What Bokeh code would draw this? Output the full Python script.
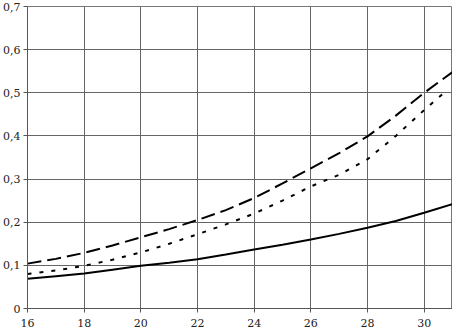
from bokeh.plotting import figure
from bokeh.embed import file_html
from bokeh.resources import INLINE
from bokeh.models import Range1d, FixedTicker, CustomJSTickFormatter

x_vals = [16, 17, 18, 19, 20, 21, 22, 23, 24, 25, 26, 27, 28, 29, 30, 31]
solid = [0.069, 0.075, 0.081, 0.090, 0.099, 0.106, 0.114, 0.125, 0.137, 0.148, 0.160, 0.173, 0.187, 0.203, 0.222, 0.242]
dashed = [0.104, 0.115, 0.129, 0.146, 0.165, 0.184, 0.205, 0.228, 0.256, 0.290, 0.325, 0.360, 0.399, 0.447, 0.500, 0.548]
dotted_x = [16, 17, 18, 19, 20, 21, 22, 23, 24, 25, 26, 27, 28, 29, 30, 30.7]
dotted = [0.080, 0.088, 0.099, 0.113, 0.130, 0.150, 0.172, 0.195, 0.220, 0.250, 0.283, 0.310, 0.346, 0.400, 0.460, 0.500]

x_ticks = [16, 18, 20, 22, 24, 26, 28, 30]
y_ticks = [0, 0.1, 0.2, 0.3, 0.4, 0.5, 0.6, 0.7]

FONT = "DejaVu Serif"

p = figure(width=452, height=331, output_backend="svg", toolbar_location=None,
           x_range=Range1d(16, 31), y_range=Range1d(0, 0.7),
           min_border_left=22, min_border_right=0, min_border_top=6, min_border_bottom=23)
p.outline_line_color = "#777777"
p.outline_line_width = 1

for ax in (p.xaxis[0], p.yaxis[0]):
    ax.axis_line_color = "#555555"
    ax.major_tick_line_color = "#555555"
    ax.major_tick_in = 0
    ax.major_tick_out = 4
    ax.minor_tick_line_color = None
    ax.major_label_text_font = FONT
    ax.major_label_text_font_size = "11px"
    ax.major_label_text_font_style = "normal"
    ax.major_label_text_color = "#222222"

p.xaxis.ticker = FixedTicker(ticks=x_ticks)
p.yaxis.ticker = FixedTicker(ticks=y_ticks)
p.yaxis.formatter = CustomJSTickFormatter(code="return tick == 0 ? '0' : tick.toFixed(1).replace('.', ',');")
p.xaxis.major_label_standoff = 6
p.yaxis.major_label_standoff = 3

p.xgrid.ticker = FixedTicker(ticks=x_ticks)
p.ygrid.ticker = FixedTicker(ticks=y_ticks)
p.grid.grid_line_color = "#666666"
p.grid.grid_line_width = 1
p.grid.grid_line_alpha = 1.0

p.line(x_vals, solid, line_color="black", line_width=2)
p.line(x_vals, dashed, line_color="black", line_width=2, line_dash="14 6")
p.line(dotted_x, dotted, line_color="black", line_width=2, line_dash="4 8")

html = file_html(p, INLINE)
html = html.replace("<body>", '<body style="margin:0">', 1)
open("out.html", "w").write(html)
